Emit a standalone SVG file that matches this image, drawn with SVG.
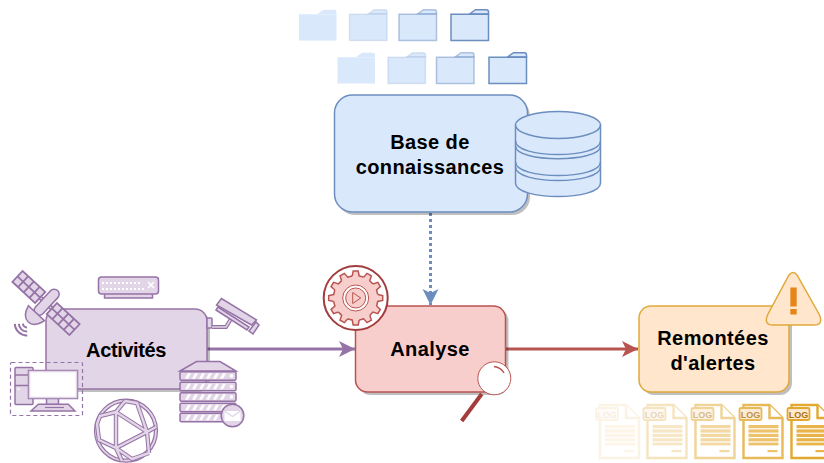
<svg xmlns="http://www.w3.org/2000/svg" width="824" height="463" viewBox="0 0 824 463">
<style>
text{font-family:"Liberation Sans",Arial,sans-serif;font-weight:bold;font-size:20px;fill:#000;text-anchor:middle;letter-spacing:.4px}
.p{fill:#e1d5e7;stroke:#9673a6;stroke-width:1.5}
.pl{fill:none;stroke:#9673a6;stroke-width:1.5}
.b{fill:#dae8fc;stroke:#6c8ebf;stroke-width:1.5}
.f{fill:#dae8fc;stroke:#6c8ebf;stroke-width:1.5;stroke-opacity:inherit}
.r{fill:#f8cecc;stroke:#b85450;stroke-width:1.5}
.o{fill:#ffe6cc;stroke:#e0a93a;stroke-width:1.5}
.sh{fill:#000;opacity:.25}
.log{font-size:9px;fill:#a8760c;letter-spacing:0}
.gl{fill:#e9b347}
#folders use:nth-child(4n+1){stroke-opacity:0}
#folders use:nth-child(4n+2){stroke-opacity:.2}
#folders use:nth-child(4n+3){stroke-opacity:.5}
</style>
<defs>
<g id="folder">
<path class="f" d="M19,5 L25,0.7 H36 Q38,0.7 38,3 V5 Z"/>
<path class="f" d="M0.5,5.2 H38 V31.5 H0.5 Z"/>
</g>
<g id="doc">
<path d="M4,0 H30 L43,13 V53 H4 Z" fill="#fff" stroke="#e3a82f" stroke-width="2.4"/>
<path d="M30,0 V13 H43" fill="#fff" stroke="#e3a82f" stroke-width="2.4"/>
<rect x="0" y="3" width="22" height="12" rx="1.5" fill="#ffe6cc" stroke="#e3a82f" stroke-width="1.8"/>
<text class="log" x="11" y="12.5">LOG</text>
<rect class="gl" x="9" y="20" width="30" height="3.2"/>
<rect class="gl" x="9" y="24.4" width="30" height="3.2"/>
<rect class="gl" x="9" y="28.8" width="30" height="3.2"/>
<rect class="gl" x="9" y="33.2" width="30" height="3.2"/>
<rect class="gl" x="9" y="37.6" width="30" height="2.8"/>
<rect class="gl" x="28" y="45" width="10" height="2.2"/>
</g>
<path id="tooth" class="r" d="M-3.5,-22 L-2.5,-27 H2.5 L3.5,-22 Q6,-21.5 8,-20.8"/>
<g id="unit">
<rect class="p" x="0" y="0" width="56" height="8.5" rx="1.5"/>
<path d="M5,7 L8,1.5 H11 L8,7 Z M12,7 L15,1.5 H18 L15,7 Z M19,7 L22,1.5 H25 L22,7 Z M26,7 L29,1.5 H32 L29,7 Z M33,7 L36,1.5 H39 L36,7 Z M40,7 L43,1.5 H46 L43,7 Z" fill="#fff"/>
<circle cx="51.5" cy="4.2" r="1.8" fill="#fff"/>
</g>
<marker id="mp" markerUnits="userSpaceOnUse" markerWidth="18" markerHeight="18" refX="16" refY="8" orient="auto"><path d="M0,0 L16,8 L0,16 L4,8 Z" fill="#9673a6"/></marker>
<marker id="mr" markerUnits="userSpaceOnUse" markerWidth="18" markerHeight="18" refX="16" refY="8" orient="auto"><path d="M0,0 L16,8 L0,16 L4,8 Z" fill="#b85450"/></marker>
<marker id="mb" markerUnits="userSpaceOnUse" markerWidth="18" markerHeight="18" refX="16" refY="8" orient="auto"><path d="M0,0 L16,8 L0,16 L4,8 Z" fill="#6c8ebf"/></marker>
</defs>

<g id="connectors" fill="none" stroke-width="3">
<path d="M207,349 H355" stroke="#9673a6" marker-end="url(#mp)"/>
<path d="M506,349 H638" stroke="#b85450" marker-end="url(#mr)"/>
<path d="M430.5,213 V305" stroke="#6c8ebf" stroke-dasharray="3 3" marker-end="url(#mb)"/>
</g>

<g id="folders">
<use href="#folder" x="298.5" y="9"/>
<use href="#folder" x="349" y="9"/>
<use href="#folder" x="398.5" y="9"/>
<use href="#folder" x="450.5" y="9"/>
<use href="#folder" x="337" y="52"/>
<use href="#folder" x="387.5" y="52"/>
<use href="#folder" x="436" y="52"/>
<use href="#folder" x="488.5" y="52"/>
</g>

<g id="base">
<rect class="sh" x="337" y="98" width="193" height="117" rx="18"/>
<rect class="b" x="334.5" y="95" width="193" height="117" rx="18"/>
<text x="430" y="149">Base de</text>
<text x="430" y="173.5">connaissances</text>
</g>
<g id="database">
<path class="b" d="M515.5,125 V183 C515.5,201 600.5,201 600.5,183 V125 Z"/>
<ellipse class="b" cx="558" cy="125" rx="42.5" ry="13.5"/>
<path class="pl" style="stroke:#6c8ebf" d="M515.5,141 C515.5,159 600.5,159 600.5,141 M515.5,146 C515.5,163 600.5,163 600.5,146 M515.5,162 C515.5,180 600.5,180 600.5,162 M515.5,167 C515.5,185 600.5,185 600.5,167"/>
</g>

<g id="activites">
<rect class="sh" x="49" y="312" width="161" height="80" rx="12"/>
<rect class="p" x="46" y="309" width="161" height="80" rx="12"/>
<text x="126" y="356.5" style="letter-spacing:-.4px">Activités</text>
</g>

<g id="satellite" transform="translate(46,303) rotate(43)">
<rect class="p" style="stroke-width:1.8" x="-39" y="-7.5" width="31" height="15"/>
<rect class="p" style="stroke-width:1.8" x="8" y="-7.5" width="31" height="15"/>
<path class="pl" style="stroke-width:1.8" d="M-31.2,-7.5 V7.5 M-23.5,-7.5 V7.5 M-15.7,-7.5 V7.5 M-39,0 H-8 M15.7,-7.5 V7.5 M23.5,-7.5 V7.5 M31.2,-7.5 V7.5 M8,0 H39"/>
<rect class="p" x="-8" y="-1.5" width="16" height="3"/>
<rect class="p" x="-5" y="-17" width="10" height="32" rx="5"/>
<path class="p" d="M-11,14 H11 Q8,26 0,26 Q-8,26 -11,14 Z"/>
<path class="pl" d="M-2.8,30.8 A4,4 0 0 0 2.8,30.8 M-5.7,33.7 A8,8 0 0 0 5.7,33.7 M-8.5,36.5 A12,12 0 0 0 8.5,36.5" style="stroke-width:2"/>
</g>

<g id="router">
<rect class="p" x="104.5" y="293" width="48" height="5"/>
<rect class="p" x="98.5" y="277" width="60" height="17" rx="3"/>
<path d="M102,283 H140 M102,289 H145" stroke="#fff" stroke-width="1.8" stroke-dasharray="2 2" fill="none"/>
<path d="M148,282 L154,288 M154,282 L148,288" stroke="#fff" stroke-width="1.5"/>
</g>

<g id="camera">
<path class="p" d="M207,318 H211 Q212,318 212,319 V327 Q212,328 211,328 H207 Z"/>
<path class="pl" style="stroke-width:4" d="M212,327 H226 L231,319"/>
<path d="M212,327 H226 L231,319" fill="none" stroke="#e1d5e7" stroke-width="1.5"/>
<path class="p" d="M221.5,298.5 L216.5,305 L251.5,325 L256.5,320 Z"/>
<path class="p" d="M216,310 L247,330 L249,327 L218,307 Z"/>
<path class="p" d="M249,331 L256,322 L259,325 L253,334 Z"/>
</g>

<g id="server">
<path class="p" d="M180,371 L196.5,361.5 H220 L236,371 Z"/>
<use href="#unit" x="180" y="371.7"/>
<use href="#unit" x="180" y="382.3"/>
<use href="#unit" x="180" y="392.7"/>
<use href="#unit" x="180" y="403.3"/>
<use href="#unit" x="180" y="413.3"/>
<circle class="p" cx="232.5" cy="415.5" r="11.3"/>
<path d="M224.5,411 H240.5 V421 H224.5 Z" fill="#fff"/>
<path d="M224.5,411 L232.5,416.5 L240.5,411" fill="none" stroke="#e1d5e7" stroke-width="1.2"/>
</g>

<g id="computer">
<rect x="10.5" y="362.5" width="72" height="53" rx="1" fill="none" stroke="#9673a6" stroke-width="1.2" stroke-dasharray="4 3"/>
<rect class="p" x="15" y="367.5" width="18" height="37" rx="1"/>
<path class="pl" d="M15,375 H33 M15,385.5 H33"/>
<circle cx="18.5" cy="389" r="1" fill="#fff"/>
<rect class="p" x="46.5" y="398" width="12" height="6.5"/>
<path class="p" d="M38.3,404.3 H68.3 L75,411 H31 Z"/>
<path class="pl" d="M45,407.5 H64" style="stroke-width:1.2"/>
<rect x="28.5" y="370.5" width="49" height="28" fill="#fff" stroke="#9673a6" stroke-width="1.5"/>
<rect x="29.5" y="371.5" width="47" height="26" fill="none" stroke="#e1d5e7" stroke-width="1.5"/>
</g>

<g id="globe">
<circle cx="126" cy="430.7" r="31.5" fill="#e1d5e7" stroke="#9673a6" stroke-width="1.2"/>
<circle cx="126" cy="430.7" r="28.5" fill="#fff" stroke="#9673a6" stroke-width="1.2"/>
<path d="M116,412 L147,432 L116,448 Z M116,412 L125,401 M116,412 L100,416 L97,424 L99,440 L116,448 M147,432 L137,403 M147,432 L156,427 M147,432 L149,453 M116,448 L122,461 M116,448 L132,459 L149,453 M125,401 L137,403" fill="none" stroke="#9673a6" stroke-width="4.4" stroke-linejoin="round"/>
<path d="M116,412 L147,432 L116,448 Z M116,412 L125,401 M116,412 L100,416 L97,424 L99,440 L116,448 M147,432 L137,403 M147,432 L156,427 M147,432 L149,453 M116,448 L122,461 M116,448 L132,459 L149,453 M125,401 L137,403" fill="none" stroke="#e1d5e7" stroke-width="2.4" stroke-linejoin="round"/>
</g>

<g id="analyse">
<rect class="sh" x="358.5" y="309" width="150" height="86" rx="12"/>
<rect class="r" x="355.5" y="306" width="150" height="86" rx="12"/>
<text x="430" y="356">Analyse</text>
</g>
<g id="gear">
<circle cx="355.7" cy="298" r="32" fill="#fff" stroke="#a33c3c" stroke-width="2"/>
<g transform="translate(355.7,298)">
<circle r="22" fill="#f8cecc"/>
<use href="#tooth"/><use href="#tooth" transform="rotate(30)"/><use href="#tooth" transform="rotate(60)"/><use href="#tooth" transform="rotate(90)"/><use href="#tooth" transform="rotate(120)"/><use href="#tooth" transform="rotate(150)"/><use href="#tooth" transform="rotate(180)"/><use href="#tooth" transform="rotate(210)"/><use href="#tooth" transform="rotate(240)"/><use href="#tooth" transform="rotate(270)"/><use href="#tooth" transform="rotate(300)"/><use href="#tooth" transform="rotate(330)"/>
<circle r="13" fill="#fff" stroke="#b85450" stroke-width="1"/>
<circle r="10" fill="#f8cecc" stroke="#b85450" stroke-width="1"/>
<path d="M-3,-5.5 L5,0 L-3,5.5 Z" fill="#f8cecc" stroke="#b85450" stroke-width="1"/>
</g>
</g>
<g id="magnifier">
<path d="M481.7,394 L461.7,421" stroke="#a33c3c" stroke-width="4" fill="none"/>
<circle cx="494.3" cy="378.3" r="16.5" fill="#fff" stroke="#b85450" stroke-width="1"/>
<path d="M494,366.5 Q501,367.5 504,373" fill="none" stroke="#b85450" stroke-width="1.5"/>
</g>

<g id="remontees">
<rect class="sh" x="642" y="309" width="150" height="86" rx="12"/>
<rect class="o" x="639" y="306" width="150" height="86" rx="12"/>
<text x="713" y="345">Remontées</text>
<text x="713" y="370">d'alertes</text>
</g>
<g id="warning">
<path class="o" d="M789,275 Q793,270 797,275 L819,314 Q824,325 814,325 H773 Q763,325 768,314 Z"/>
<rect x="790.3" y="287.5" width="6.4" height="19" fill="#e6861a"/>
<rect x="790.3" y="309" width="6.4" height="5.5" fill="#e6861a"/>
</g>

<g id="logs">
<use href="#doc" x="596" y="405" opacity=".12"/>
<use href="#doc" x="643.5" y="405" opacity=".3"/>
<use href="#doc" x="691.5" y="405" opacity=".5"/>
<use href="#doc" x="739.5" y="405" opacity=".8"/>
<use href="#doc" x="787.5" y="405"/>
</g>
</svg>
